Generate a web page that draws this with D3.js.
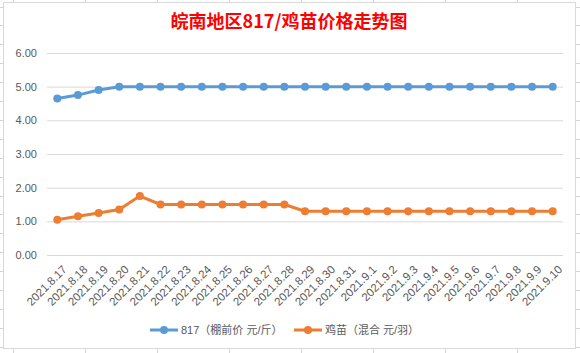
<!DOCTYPE html>
<html>
<head>
<meta charset="utf-8">
<script src="https://cdn.jsdelivr.net/npm/d3@7"></script>
<style>
  html, body { margin: 0; padding: 0; background: #fff; }
  svg { display: block; }
</style>
</head>
<body>
<div id="chart"></div>
<script>
const dates = [
    "2021.8.17", "2021.8.18", "2021.8.19", "2021.8.20", "2021.8.21", "2021.8.22", "2021.8.23",
    "2021.8.24", "2021.8.25", "2021.8.26", "2021.8.27", "2021.8.28", "2021.8.29", "2021.8.30",
    "2021.8.31", "2021.9.1", "2021.9.2", "2021.9.3", "2021.9.4", "2021.9.5", "2021.9.6",
    "2021.9.7", "2021.9.8", "2021.9.9", "2021.9.10"
];
const price817 = [4.65, 4.75, 4.9, 5, 5, 5, 5, 5, 5, 5, 5, 5, 5, 5, 5, 5, 5, 5, 5, 5, 5, 5, 5, 5, 5];
const priceChick = [1.05, 1.15, 1.25, 1.35, 1.75, 1.5, 1.5, 1.5, 1.5, 1.5, 1.5, 1.5, 1.3, 1.3, 1.3,
    1.3, 1.3, 1.3, 1.3, 1.3, 1.3, 1.3, 1.3, 1.3, 1.3];
const yTicks = [0, 1, 2, 3, 4, 5, 6];
const seriesNames = ["817（棚前价 元/斤）", "鸡苗（混合 元/羽）"];
const title = "皖南地区817/鸡苗价格走势图";

const colors = {
    blue: "#5b9bd5",
    orange: "#ed7d31",
    grid: "#d9d9d9",
    text: "#595959"
};

const width = 580;
const height = 353;
const font = "'Liberation Sans', 'Noto Sans CJK SC', sans-serif";

const svg = d3.select("#chart").append("svg")
    .attr("width", width)
    .attr("height", height);

// spreadsheet cells behind the chart
const cells = svg.append("g").attr("stroke", "#d4d4d4").attr("stroke-width", 1);
d3.range(13.5, width, 72).forEach(x => {
    cells.append("line").attr("x1", x).attr("x2", x).attr("y1", 0).attr("y2", height);
});
d3.range(6.5, height, 18.9).forEach(y => {
    cells.append("line").attr("x1", 0).attr("x2", width).attr("y1", Math.round(y) + 0.5).attr("y2", Math.round(y) + 0.5);
});

// chart area
svg.append("rect")
    .attr("x", 3.5).attr("y", 2.5)
    .attr("width", 572).attr("height", 346)
    .attr("fill", "#fff")
    .attr("stroke", colors.grid);

const x = d3.scalePoint().domain(dates).range([47, 563]).padding(0.5);
const y = d3.scaleLinear().domain([0, 6]).range([255, 53]);

// gridlines + y labels
const yAxis = d3.axisLeft(y)
    .tickValues(yTicks)
    .tickSize(-(563 - 47))
    .tickPadding(10)
    .tickFormat(d3.format(".2f"));

const gy = svg.append("g")
    .attr("transform", "translate(47,0)")
    .call(yAxis);
gy.select(".domain").remove();
gy.selectAll(".tick line").attr("stroke", colors.grid);
gy.selectAll(".tick text")
    .attr("fill", colors.text)
    .style("font-family", font)
    .style("font-size", "11px");

// x labels
const xAxis = d3.axisBottom(x).tickSize(0).tickPadding(0);
const gx = svg.append("g")
    .attr("transform", "translate(0,267)")
    .call(xAxis);
gx.select(".domain").remove();
gx.selectAll(".tick text")
    .attr("fill", colors.text)
    .style("font-family", font)
    .style("font-size", "11.5px")
    .attr("text-anchor", "end")
    .attr("dx", "0.4em")
    .attr("dy", "0.8em")
    .attr("transform", "rotate(-45)");

// series
function drawSeries(values, color) {
    const line = d3.line()
        .x((d, i) => x(dates[i]))
        .y(d => y(d));

    svg.append("path")
        .datum(values)
        .attr("d", line)
        .attr("fill", "none")
        .attr("stroke", color)
        .attr("stroke-width", 3)
        .attr("stroke-linejoin", "round");

    svg.append("g").selectAll("circle")
        .data(values)
        .enter()
        .append("circle")
        .attr("cx", (d, i) => x(dates[i]))
        .attr("cy", d => y(d))
        .attr("r", 4)
        .attr("fill", color);
}

drawSeries(price817, colors.blue);
drawSeries(priceChick, colors.orange);

// title
svg.append("text")
    .attr("x", 289)
    .attr("y", 28)
    .attr("text-anchor", "middle")
    .attr("fill", "#ff0000")
    .style("font-family", "'Noto Sans CJK SC', sans-serif")
    .style("font-weight", "bold")
    .style("font-size", "18px")
    .text(title);

// legend
const legendX = [150, 294];
const legendColors = [colors.blue, colors.orange];
seriesNames.forEach((name, i) => {
    const g = svg.append("g").attr("transform", `translate(${legendX[i]},330)`);
    g.append("line")
        .attr("x1", 0).attr("x2", 28)
        .attr("stroke", legendColors[i])
        .attr("stroke-width", 3);
    g.append("circle")
        .attr("cx", 14).attr("r", 4)
        .attr("fill", legendColors[i]);
    g.append("text")
        .attr("x", 31)
        .attr("dy", "0.35em")
        .attr("fill", colors.text)
        .style("font-family", font)
        .style("font-size", "11px")
        .text(name);
});
</script>
</body>
</html>
